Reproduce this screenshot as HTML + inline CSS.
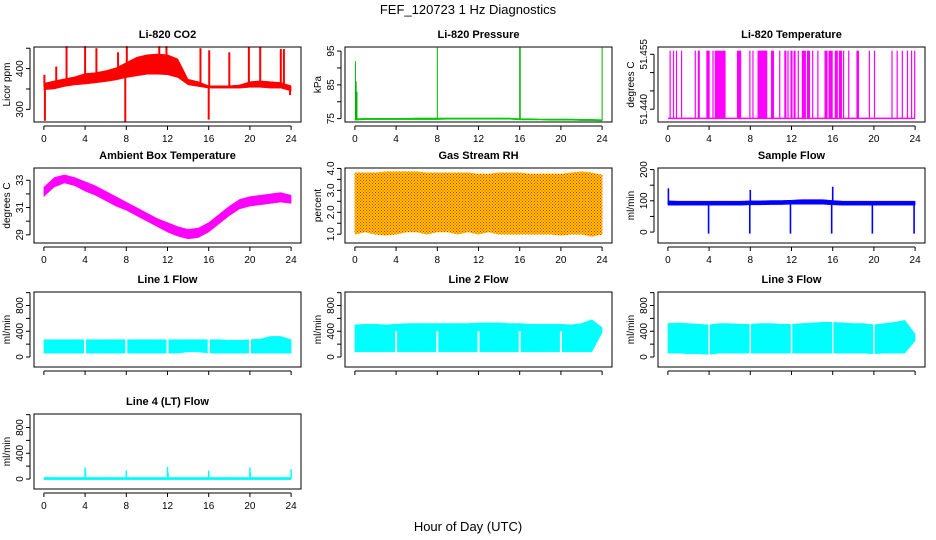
<!DOCTYPE html>
<html><head><meta charset="utf-8"><style>
html,body{margin:0;padding:0;background:#fff;}
svg{display:block;font-family:"Liberation Sans",Arial,sans-serif;}
</style></head><body>
<svg id="c" width="936" height="540" viewBox="0 0 936 540" xmlns="http://www.w3.org/2000/svg">
<defs>
<pattern id="rhpat" width="3" height="3" patternUnits="userSpaceOnUse"><rect width="3" height="3" fill="#ffc800"/><rect width="1" height="1" fill="#ff2000"/><rect x="1.5" y="1.5" width="1" height="1" fill="#ff2000"/></pattern>
</defs>
<text x="468" y="14" text-anchor="middle" font-size="13">FEF_120723  1 Hz Diagnostics</text>
<text x="468" y="531" text-anchor="middle" font-size="13">Hour of Day (UTC)</text>
</svg>
<script>
// ---- data arrays ----
const hourTicks=[0,4,8,12,16,20,24];
const hours=[0,1,2,3,4,5,6,7,8,9,10,11,12,13,14,15,16,17,18,19,20,21,22,23,24];
// CO2
const co2Lo=[348,350,356,360,362,365,368,372,378,382,386,386,385,378,360,356,352,352,352,352,354,354,352,352,345];
const co2Hi=[364,370,375,380,388,390,395,402,415,428,434,436,434,424,374,368,358,358,358,360,368,370,368,366,358];
const co2SpikeT=[0.05,0.1,1.2,2.2,4.0,5.1,7.2,7.9,8.05,11.2,11.9,15.2,16.0,16.05,18.0,19.9,21.0,23.0,23.3,23.9];
const co2SpikeV=[385,272,405,455,455,450,440,270,455,455,455,450,275,445,440,452,452,448,448,335];
// Pressure
const presLo=[74.5,74.7,74.7,74.7,74.7,74.7,74.7,74.7,74.7,74.8,74.8,74.8,74.8,74.8,74.8,74.8,74.6,74.6,74.6,74.5,74.5,74.5,74.4,74.4,74.3];
const presHi=[75.0,75.1,75.1,75.1,75.1,75.1,75.2,75.2,75.2,75.2,75.2,75.2,75.2,75.2,75.2,75.2,75.0,75.0,74.9,74.9,74.9,74.9,74.8,74.8,74.7];
const presSpikeT=[0.05,0.12,0.2,8.0,16.0,16.05,24.0];
const presSpikeV=[92,86,83,96,96,96,96];
// Li-820 temperature: spike intervals (start,end hours)
const tempSpikeStart=[0.16,0.49,0.78,1.27,2.6,2.9,3.73,4.32,4.55,6.7,7.0,7.9,8.2,8.7,9.0,9.5,10.0,10.8,11.3,11.6,11.9,12.2,12.6,13.0,13.5,14.0,14.5,15.2,15.6,16.2,16.6,17.0,17.5,18.3,19.5,20.0,21.7,22.2,22.7,23.2,23.6,23.9];
const tempSpikeEnd=[0.2,0.53,0.82,1.31,2.65,3.1,4.06,4.36,5.6,7.0,7.1,7.95,8.25,9.4,9.6,9.65,10.3,10.85,11.5,11.7,12.1,12.4,12.65,13.4,13.8,14.05,14.6,15.5,16.0,16.5,16.9,17.1,17.55,18.55,19.55,20.05,21.75,22.25,22.75,23.25,23.65,23.95];
const tempBase=51.4375, tempTop=51.456;
// Ambient box temp
const ambLo=[31.8,32.5,32.8,32.6,32.2,31.9,31.5,31.1,30.8,30.4,30.0,29.6,29.2,28.9,28.7,28.8,29.2,29.8,30.4,30.9,31.1,31.2,31.3,31.4,31.3];
const ambHi=[32.5,33.2,33.4,33.2,32.9,32.6,32.2,31.8,31.4,31.0,30.6,30.2,29.9,29.6,29.4,29.5,29.9,30.5,31.1,31.6,31.8,31.9,32.0,32.1,31.9];
// Gas stream RH
const rhLo=[1.0,1.1,1.0,0.95,1.0,1.1,1.1,1.0,1.1,1.1,1.0,1.1,1.0,1.1,1.0,1.0,1.0,1.0,1.0,1.0,0.95,1.0,1.0,0.9,1.0];
const rhHi=[3.8,3.8,3.8,3.85,3.85,3.85,3.85,3.8,3.8,3.8,3.8,3.8,3.75,3.75,3.8,3.8,3.8,3.75,3.75,3.75,3.75,3.8,3.85,3.8,3.7];
const rhGapT=[0.9,1.6,2.1,3.3,3.9,5.0,6.4,6.9,8.5,9.7,11.9,12.7,13.5,14.1,14.8,15.6,16.9,18.1,19.2,20.3,20.6,21.7,23.1];
const rhGapV=[1.6,2.6,2.6,2.2,2.7,2.8,1.8,1.7,1.5,1.6,2.8,1.9,2.7,2.7,1.8,2.0,2.5,2.6,2.2,2.7,2.7,2.2,2.6];
// Sample flow
const sfLo=[86,86,86,86,86,86,86,86,87,87,88,88,89,89,89,89,87,86,86,86,86,86,86,86,86];
const sfHi=[100,99,99,99,99,99,99,99,100,100,101,101,102,104,104,104,101,99,99,99,99,99,99,99,99];
const sfSpikeT=[0.05,3.95,7.95,8.0,11.9,15.9,16.0,19.85,23.9];
const sfSpikeV=[140,-5,-5,135,-5,-5,145,-5,-5];
// Line flows
const l1Lo=[60,60,60,60,60,60,60,60,60,60,60,60,60,60,80,80,60,60,60,60,60,60,60,60,60];
const l1Hi=[270,270,270,270,270,270,270,270,270,270,270,270,270,270,270,270,270,270,260,260,270,280,320,320,270];
const l2Lo=[80,80,80,80,80,80,80,80,80,80,80,80,80,80,80,80,80,80,80,80,80,80,80,80,380];
const l2Hi=[500,510,510,500,510,520,520,520,520,520,520,520,530,530,530,520,520,510,510,510,510,500,520,580,460];
const l3Lo=[60,60,50,50,40,60,60,60,60,60,60,60,60,60,60,60,60,60,60,60,50,60,60,60,250];
const l3Hi=[520,530,520,510,500,520,520,510,510,520,520,510,510,520,530,540,540,530,520,520,500,520,540,570,360];
const flowGapT=[4,8,12,16,20];
const l4SpikeT=[4,4.05,8,12,12.05,16,20,20.05,24];
const l4SpikeV=[180,100,130,190,100,130,180,100,150];

// ---- drawing ----
const svg=document.getElementById('c');
const NS='http://www.w3.org/2000/svg';
function mk(tag,attrs,parent){const e=document.createElementNS(NS,tag);for(const k in attrs)e.setAttribute(k,attrs[k]);(parent||svg).appendChild(e);return e;}
const colX=[34,345,658], rowY=[47,168,292,414], W=267, H=75;
function panel(col,row,title,ylab,ymin,ymax,ticks,labels,name){
  const x0=colX[col],y0=rowY[row];
  const g=mk('g',{});
  
  
  const xs=h=>x0+(h+0.96)/25.92*W;
  const ys=v=>y0+H-(v-ymin)/(ymax-ymin)*H;
  const t=mk('text',{x:x0+W/2,y:y0-9,'text-anchor':'middle','font-size':'11','font-weight':'bold'},g);
  t.textContent=title;
  
  
  const yl=mk('text',{x:0,y:0,'text-anchor':'middle','font-size':'10',transform:`translate(${x0-24},${y0+H/2}) rotate(-90)`},g);
  yl.textContent=ylab;
  
  
  const plot=mk('g',{},g);
  
  
  mk('line',{x1:xs(0),x2:xs(24),y1:y0+H+4,y2:y0+H+4,stroke:'#000'},g);
  hourTicks.forEach(h=>{mk('line',{x1:xs(h),x2:xs(h),y1:y0+H+4,y2:y0+H+8,stroke:'#000'},g);
    if(row!==2){const l=mk('text',{x:xs(h),y:y0+H+20,'text-anchor':'middle','font-size':'10'},g);l.textContent=h;
    
    }});
  mk('line',{x1:x0-4,x2:x0-4,y1:ys(ticks[ticks.length-1]),y2:ys(ticks[0]),stroke:'#000'},g);
  ticks.forEach((v,i)=>{mk('line',{x1:x0-8,x2:x0-4,y1:ys(v),y2:ys(v),stroke:'#000'},g);
    if(labels[i]){const l=mk('text',{x:0,y:0,'text-anchor':'middle','font-size':'10',transform:`translate(${x0-11},${ys(v)}) rotate(-90)`},g);l.textContent=labels[i];
    
    }});
  mk('rect',{x:x0,y:y0,width:W,height:H,fill:'none',stroke:'#000'},g);
  return {xs,ys,plot};
}
function band(p,T,lo,hi,fill){
  let pts=T.map((t,i)=>p.xs(t)+','+p.ys(hi[i]));
  for(let i=T.length-1;i>=0;i--)pts.push(p.xs(T[i])+','+p.ys(lo[i]));
  return mk('polygon',{points:pts.join(' '),fill:fill,stroke:fill,'stroke-width':0.5},p.plot);
}
function interp(T,A,t){for(let i=0;i<T.length-1;i++){if(t<=T[i+1]){const f=(t-T[i])/(T[i+1]-T[i]);return A[i]+f*(A[i+1]-A[i]);}}return A[A.length-1];}
function spikes(p,T,V,baseLo,baseHi,color,w){
  T.forEach((t,i)=>{const b=(interp(hours,baseLo,t)+interp(hours,baseHi,t))/2;
    mk('line',{x1:p.xs(t),x2:p.xs(t),y1:p.ys(b),y2:p.ys(V[i]),stroke:color,'stroke-width':w||1.3},p.plot);});
}
function gaps(p,T,yv,ylo,w){T.forEach(t=>mk('rect',{x:p.xs(t)-w/2,y:p.ys(yv),width:w,height:p.ys(ylo)-p.ys(yv),fill:'#fff'},p.plot));}

let p=panel(0,0,'Li-820 CO2','Licor ppm',269,453,[300,350,400,450],['300','','400',''],'co2');
band(p,hours,co2Lo,co2Hi,'#ff0000');spikes(p,co2SpikeT,co2SpikeV,co2Lo,co2Hi,'#ff0000',2);
p=panel(1,0,'Li-820 Pressure','kPa',74,96.2,[75,80,85,90,95],['75','','85','','95'],'pressure');
band(p,hours,presLo,presHi,'#00cc00');spikes(p,presSpikeT,presSpikeV,presLo,presHi,'#00b000',1);
p=panel(2,0,'Li-820 Temperature','degrees C',51.4365,51.4570,[51.440,51.445,51.450,51.455],['51.440','','','51.455'],'li820-temp');
mk('line',{x1:p.xs(0),x2:p.xs(24),y1:p.ys(tempBase),y2:p.ys(tempBase),stroke:'#ff00ff','stroke-width':1.5},p.plot);
tempSpikeStart.forEach((s,i)=>{const e=tempSpikeEnd[i];mk('rect',{x:p.xs(s),y:p.ys(tempTop),width:Math.max(1.2,p.xs(e)-p.xs(s)),height:p.ys(tempBase)-p.ys(tempTop),fill:'#ff00ff'},p.plot);});
p=panel(0,1,'Ambient Box Temperature','degrees C',28.4,33.9,[29,30,31,32,33],['29','','31','','33'],'ambient-temp');
band(p,hours,ambLo,ambHi,'#ff00ff');
p=panel(1,1,'Gas Stream RH','percent',0.6,4.02,[1,1.5,2,2.5,3,3.5,4],['1.0','','2.0','','3.0','','4.0'],'gas-rh');
band(p,hours,rhLo,rhHi,'url(#rhpat)');gaps(p,rhGapT,rhGapV,0.6,2);
p=panel(2,1,'Sample Flow','ml/min',-35,205,[0,50,100,150,200],['0','','100','','200'],'sample-flow');
band(p,hours,sfLo,sfHi,'#0000ff');spikes(p,sfSpikeT,sfSpikeV,sfLo,sfHi,'#0000ff',1.6);
const fT=[0,200,400,600,800,1000], fL=['0','','400','','800',''];
p=panel(0,2,'Line 1 Flow','ml/min',-155,1010,fT,fL,'line1-flow');band(p,hours,l1Lo,l1Hi,'#00ffff');gaps(p,flowGapT,290,40,2);
p=panel(1,2,'Line 2 Flow','ml/min',-155,1010,fT,fL,'line2-flow');band(p,hours,l2Lo,l2Hi,'#00ffff');gaps(p,flowGapT,400,40,2);
p=panel(2,2,'Line 3 Flow','ml/min',-155,1010,fT,fL,'line3-flow');band(p,hours,l3Lo,l3Hi,'#00ffff');gaps(p,flowGapT,550,30,1.5);
p=panel(0,3,'Line 4 (LT) Flow','ml/min',-155,1010,fT,fL,'line4-flow');
const z=hours.map(()=>-10), z2=hours.map(()=>25);
band(p,hours,z,z2,'#00ffff');spikes(p,l4SpikeT,l4SpikeV,z,z2,'#00ffff',1.5);
</script>
</body></html>
